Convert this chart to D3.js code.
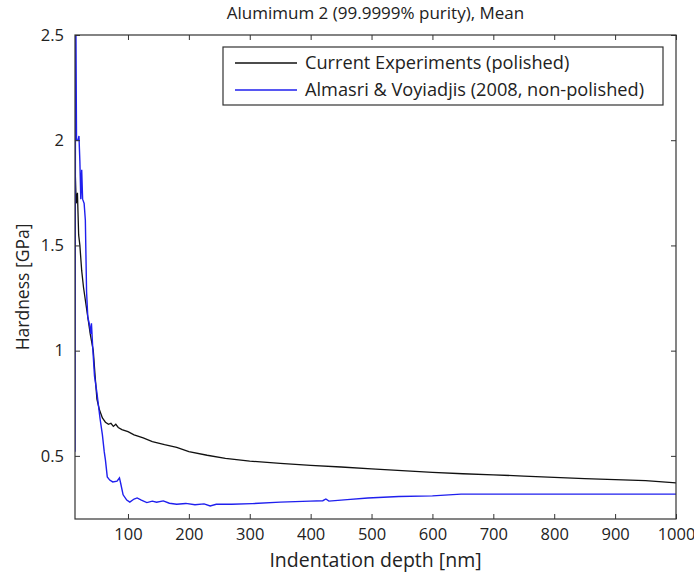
<!DOCTYPE html>
<html>
<head>
<meta charset="utf-8">
<script src="https://cdn.jsdelivr.net/npm/d3@7"></script>
<style>
  body { margin: 0; background: #fff; }
  svg text { font-family: "Open Sans", "DejaVu Sans", sans-serif; fill: #222; }
</style>
</head>
<body>
<div class="chart-div"></div>
<script>
'use strict';

// values (depth nm, hardness GPa)
var xTicks = [100, 200, 300, 400, 500, 600, 700, 800, 900, 1000];
var yTicks = [0.5, 1, 1.5, 2, 2.5];
var seriesNames = ["Current Experiments (polished)", "Almasri & Voyiadjis (2008, non-polished)"];

var currentDepth = [13, 15, 17, 19, 21, 24, 27, 30, 34, 38, 43, 46, 49, 53, 58, 63, 68, 72, 76, 80, 84, 90, 100, 110, 125, 140, 160, 180, 200, 230, 260, 300, 350, 400, 450, 500, 550, 600, 650, 700, 750, 800, 850, 900, 950, 1000];
var currentHardness = [1.88, 1.70, 1.75, 1.55, 1.50, 1.38, 1.30, 1.24, 1.16, 1.08, 1.0, 0.88, 0.77, 0.72, 0.68, 0.66, 0.65, 0.655, 0.64, 0.65, 0.635, 0.625, 0.615, 0.60, 0.585, 0.568, 0.553, 0.54, 0.52, 0.503, 0.488, 0.475, 0.464, 0.455, 0.447, 0.438, 0.43, 0.422, 0.415, 0.41, 0.404, 0.398, 0.392, 0.387, 0.382, 0.372];

var almasriDepth = [13, 14, 15.5, 18, 19.5, 21, 22.5, 24, 25.5, 28, 30, 31, 32, 34, 37, 39, 40, 42, 45, 49, 54, 58, 61, 63, 66, 70, 75, 82, 86, 88, 92, 98, 103, 110, 115, 122, 131, 140, 147, 158, 168, 180, 195, 210, 225, 235, 245, 270, 304, 350, 399, 420, 425, 430, 460, 494, 545, 600, 647, 700, 800, 900, 1000];
var almasriHardness = [0.52, 2.8, 2.0, 2.0, 2.02, 1.9, 1.72, 1.86, 1.72, 1.70, 1.62, 1.45, 1.28, 1.16, 1.12, 1.08, 1.13, 1.02, 0.88, 0.80, 0.68, 0.60, 0.52, 0.48, 0.40, 0.385, 0.376, 0.38, 0.395, 0.37, 0.315, 0.29, 0.28, 0.295, 0.30, 0.29, 0.278, 0.285, 0.28, 0.286, 0.275, 0.27, 0.274, 0.268, 0.272, 0.262, 0.27, 0.27, 0.273, 0.28, 0.285, 0.287, 0.295, 0.285, 0.292, 0.30, 0.307, 0.31, 0.318, 0.318, 0.318, 0.318, 0.318];

var width = 694;
var height = 578;
var plotLeft = 75, plotRight = 676, plotTop = 35, plotBottom = 519;

const main = () => {
    var svg = d3.select(".chart-div").append("svg")
        .attr("width", width)
        .attr("height", height);

    var x = d3.scaleLinear().domain([13, 1000]).range([plotLeft, plotRight]);
    var y = d3.scaleLinear().domain([0.2, 2.5]).range([plotBottom, plotTop]);

    svg.append("clipPath").attr("id", "plot-clip")
        .append("rect")
        .attr("x", plotLeft).attr("y", plotTop)
        .attr("width", plotRight - plotLeft).attr("height", plotBottom - plotTop);

    var line = d3.line().x(d => x(d[0])).y(d => y(d[1]));

    var current = d3.zip(currentDepth, currentHardness);
    var almasri = d3.zip(almasriDepth, almasriHardness);

    var plot = svg.append("g").attr("clip-path", "url(#plot-clip)");
    plot.append("path")
        .datum(current)
        .attr("d", line)
        .attr("fill", "none")
        .attr("stroke", "#111")
        .attr("stroke-width", 1.3);
    plot.append("path")
        .datum(almasri)
        .attr("d", line)
        .attr("fill", "none")
        .attr("stroke", "#1f1fee")
        .attr("stroke-width", 1.4);

    // axes, ticks point inward on all four sides
    var axisStyle = g => {
        g.selectAll(".domain").remove();
        g.selectAll("line").attr("stroke", "#333");
        g.selectAll("text").attr("font-size", "16.5px").attr("fill", "#222");
    };

    svg.append("g")
        .attr("transform", `translate(0,${plotBottom})`)
        .call(d3.axisBottom(x).tickValues(xTicks).tickSizeInner(-5).tickSizeOuter(0).tickPadding(9).tickFormat(d3.format("")))
        .call(axisStyle);
    svg.append("g")
        .attr("transform", `translate(0,${plotTop})`)
        .call(d3.axisTop(x).tickValues(xTicks).tickSizeInner(-5).tickSizeOuter(0).tickFormat(""))
        .call(axisStyle);
    svg.append("g")
        .attr("transform", `translate(${plotLeft},0)`)
        .call(d3.axisLeft(y).tickValues(yTicks).tickSizeInner(-5).tickSizeOuter(0).tickPadding(11).tickFormat(d3.format("")))
        .call(axisStyle);
    svg.append("g")
        .attr("transform", `translate(${plotRight},0)`)
        .call(d3.axisRight(y).tickValues(yTicks).tickSizeInner(-5).tickSizeOuter(0).tickFormat(""))
        .call(axisStyle);

    svg.append("rect")
        .attr("x", plotLeft).attr("y", plotTop)
        .attr("width", plotRight - plotLeft).attr("height", plotBottom - plotTop)
        .attr("fill", "none")
        .attr("stroke", "#333")
        .attr("stroke-width", 1.2);

    // titles
    svg.append("text")
        .attr("x", (plotLeft + plotRight) / 2)
        .attr("y", 19)
        .attr("text-anchor", "middle")
        .attr("font-size", "17px")
        .text("Alumimum 2 (99.9999% purity), Mean");

    svg.append("text")
        .attr("x", (plotLeft + plotRight) / 2)
        .attr("y", 567)
        .attr("text-anchor", "middle")
        .attr("font-size", "19.5px")
        .text("Indentation depth [nm]");

    svg.append("text")
        .attr("transform", `translate(29,${(plotTop + plotBottom) / 2 + 10}) rotate(-90)`)
        .attr("text-anchor", "middle")
        .attr("font-size", "17.5px")
        .text("Hardness [GPa]");

    // legend
    var legend = svg.append("g");
    legend.append("rect")
        .attr("x", 223).attr("y", 47)
        .attr("width", 440).attr("height", 58)
        .attr("fill", "#fff")
        .attr("stroke", "#333")
        .attr("stroke-width", 1.2);
    var colors = ["#111", "#1f1fee"];
    seriesNames.forEach((name, i) => {
        var ly = 63 + i * 27;
        legend.append("line")
            .attr("x1", 235).attr("x2", 297)
            .attr("y1", ly).attr("y2", ly)
            .attr("stroke", colors[i])
            .attr("stroke-width", 1.3);
        legend.append("text")
            .attr("x", 305).attr("y", ly + 6)
            .attr("font-size", "18.2px")
            .text(name);
    });
}

main();
</script>
</body>
</html>
